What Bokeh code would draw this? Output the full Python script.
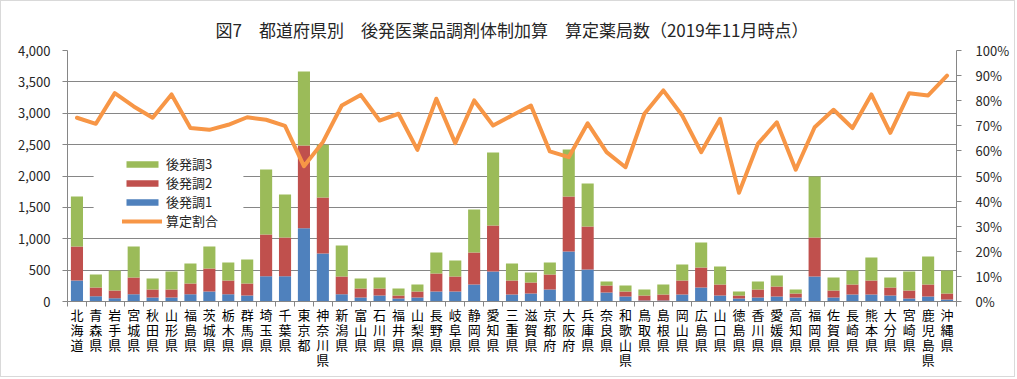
from bokeh.plotting import figure
from bokeh.models import (Range1d, LinearAxis, FixedTicker, NumeralTickFormatter,
                          Legend, LegendItem, BoxAnnotation, ColumnDataSource)
from bokeh.embed import file_html
from bokeh.resources import INLINE

prefs = ["北海道", "青森県", "岩手県", "宮城県", "秋田県", "山形県", "福島県", "茨城県", "栃木県", "群馬県",
         "埼玉県", "千葉県", "東京都", "神奈川県", "新潟県", "富山県", "石川県", "福井県", "山梨県", "長野県",
         "岐阜県", "静岡県", "愛知県", "三重県", "滋賀県", "京都府", "大阪府", "兵庫県", "奈良県", "和歌山県",
         "鳥取県", "島根県", "岡山県", "広島県", "山口県", "徳島県", "香川県", "愛媛県", "高知県", "福岡県",
         "佐賀県", "長崎県", "熊本県", "大分県", "宮崎県", "鹿児島県", "沖縄県"]

gh1 = [335, 85, 53, 117, 64, 64, 117, 159, 117, 96,
       404, 404, 1169, 765, 115, 64, 96, 48, 64, 159,
       159, 271, 478, 112, 127, 191, 797, 510, 143, 80,
       16, 16, 112, 223, 96, 48, 64, 80, 64, 398,
       64, 112, 112, 96, 48, 80, 32]
gh2 = [540, 138, 122, 265, 127, 127, 170, 367, 218, 191,
       664, 616, 1317, 892, 285, 143, 111, 48, 95, 287,
       239, 510, 733, 223, 176, 239, 876, 685, 112, 79,
       80, 96, 223, 319, 175, 48, 127, 159, 63, 622,
       111, 159, 223, 127, 127, 191, 95]
gh3 = [800, 207, 319, 494, 175, 287, 318, 350, 286, 382,
       1036, 685, 1179, 840, 492, 159, 175, 111, 112, 335,
       255, 685, 1164, 270, 159, 191, 749, 685, 64, 96,
       95, 159, 255, 398, 287, 63, 128, 175, 64, 972,
       207, 223, 366, 159, 303, 446, 367]
rate = [0.732, 0.708, 0.830, 0.777, 0.732, 0.825, 0.691, 0.684, 0.704, 0.734,
        0.724, 0.700, 0.539, 0.635, 0.781, 0.823, 0.721, 0.748, 0.604, 0.808,
        0.631, 0.801, 0.701, 0.741, 0.781, 0.598, 0.575, 0.710, 0.595, 0.535,
        0.748, 0.841, 0.741, 0.595, 0.728, 0.433, 0.628, 0.714, 0.525, 0.694,
        0.764, 0.691, 0.825, 0.672, 0.830, 0.821, 0.900]

series_names = ["後発調1", "後発調2", "後発調3"]
line_name = "算定割合"
title_text = "図7\u3000都道府県別\u3000後発医薬品調剤体制加算\u3000算定薬局数（2019年11月時点）"

FONT = "Noto Sans CJK JP"
GRID = "#868686"
TXT = "#262626"

x = [i + 1 for i in range(len(prefs))]
src = ColumnDataSource(dict(x=x, gh1=gh1, gh2=gh2, gh3=gh3, rate=rate))

p = figure(frame_width=889, frame_height=251,
           x_range=Range1d(0.5, len(prefs) + 0.5), y_range=Range1d(0, 4000),
           output_backend="svg", toolbar_location=None,
           min_border_left=66, min_border_right=58, min_border_top=49, min_border_bottom=75)

p.title.text = title_text
p.title.align = "center"
p.title.offset = -16
p.title.standoff = 18
p.title.text_font = FONT
p.title.text_font_size = "17px"
p.title.text_font_style = "normal"
p.title.text_color = TXT

p.outline_line_color = None
p.xgrid.grid_line_color = None
p.ygrid.grid_line_color = GRID
p.ygrid.ticker = FixedTicker(ticks=list(range(0, 4001, 500)))

bars = p.vbar_stack(["gh1", "gh2", "gh3"], x="x", width=0.64, source=src,
                    color=["#4F81BD", "#C0504D", "#9BBB59"], line_color=None)

p.extra_y_ranges = {"pct": Range1d(0, 1)}
ln = p.line("x", "rate", source=src, y_range_name="pct", line_color="#F79646",
            line_width=4, line_join="round", line_cap="round")

# left axis
ya = p.yaxis[0]
ya.ticker = FixedTicker(ticks=list(range(0, 4001, 500)))
ya.formatter = NumeralTickFormatter(format="0,0")
ya.axis_line_color = GRID
ya.major_tick_line_color = GRID
ya.major_tick_out = 5
ya.major_tick_in = 0
ya.minor_tick_line_color = None
ya.major_label_text_font = FONT
ya.major_label_text_font_size = "13px"
ya.major_label_text_color = TXT
ya.major_label_standoff = 12

# right axis
ra = LinearAxis(y_range_name="pct", ticker=FixedTicker(ticks=[i / 10 for i in range(11)]),
                formatter=NumeralTickFormatter(format="0%"))
ra.axis_line_color = GRID
ra.major_tick_line_color = GRID
ra.major_tick_out = 5
ra.major_tick_in = 0
ra.minor_tick_line_color = None
ra.major_label_text_font = FONT
ra.major_label_text_font_size = "13px"
ra.major_label_text_color = TXT
ra.major_label_standoff = 14
p.add_layout(ra, "right")

# bottom axis
xa = p.xaxis[0]
xa.ticker = FixedTicker(ticks=x, minor_ticks=[i + 0.5 for i in range(len(prefs) + 1)])
xa.major_label_overrides = {xi: "\n".join(name) for xi, name in zip(x, prefs)}
xa.axis_line_color = GRID
xa.major_tick_line_color = None
xa.minor_tick_line_color = GRID
xa.minor_tick_out = 5
xa.minor_tick_in = 0
xa.major_label_text_font = FONT
xa.major_label_text_font_size = "13px"
xa.major_label_text_color = "#000000"
xa.major_label_text_line_height = 0.8
xa.major_label_standoff = -3

# white area behind legend (breaks gridlines like the original)
p.add_layout(BoxAnnotation(left=1.88, right=9.8, bottom=1130, top=2400,
                           fill_color="white", fill_alpha=1, line_color=None))

legend = Legend(items=[LegendItem(label=series_names[2], renderers=[bars[2]]),
                       LegendItem(label=series_names[1], renderers=[bars[1]]),
                       LegendItem(label=series_names[0], renderers=[bars[0]]),
                       LegendItem(label=line_name, renderers=[ln])],
                location=(55, 71), orientation="vertical",
                glyph_width=40, glyph_height=8, label_height=16, spacing=0,
                padding=0, margin=0, label_standoff=4,
                background_fill_alpha=0, border_line_color=None,
                label_text_font=FONT, label_text_font_size="13px", label_text_color=TXT)
p.add_layout(legend)

p.styles = {"border": "1px solid #d9d9d9"}

open("out.html", "w").write(file_html(p, INLINE))
